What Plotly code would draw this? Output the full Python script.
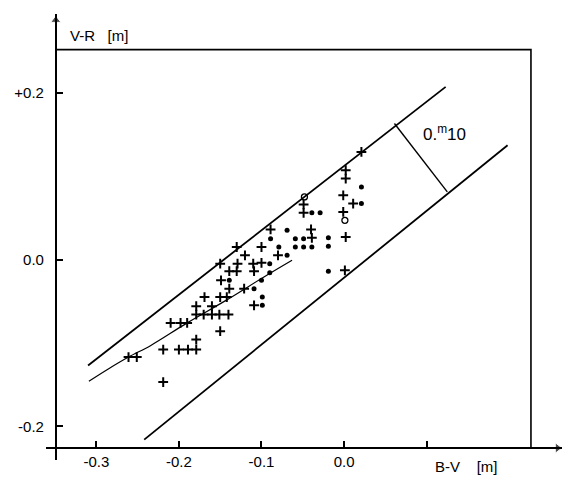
import plotly.graph_objects as go

# ---- data (B-V, V-R in magnitudes) ----
plus_bv = [-0.261, -0.251, -0.219, -0.219, -0.200, -0.189, -0.179, -0.210, -0.198, -0.190,
           -0.179, -0.150, -0.179, -0.170, -0.160, -0.151, -0.140, -0.179, -0.160, -0.169,
           -0.150, -0.142, -0.139, -0.121, -0.149, -0.139, -0.130, -0.109, -0.150, -0.129,
           -0.110, -0.100, -0.120, -0.080, -0.130, -0.100, -0.089, -0.109, -0.049, -0.049,
           -0.040, -0.039, 0.021, 0.002, 0.002, -0.001, 0.011, -0.001, 0.002, 0.001]
plus_vr = [-0.117, -0.117, -0.147, -0.108, -0.108, -0.108, -0.108, -0.076, -0.076, -0.076,
           -0.096, -0.086, -0.066, -0.066, -0.066, -0.066, -0.066, -0.056, -0.056, -0.045,
           -0.045, -0.045, -0.035, -0.035, -0.025, -0.014, -0.014, -0.014, -0.005, -0.005,
           -0.005, -0.004, 0.005, 0.005, 0.015, 0.015, 0.036, -0.055, 0.066, 0.056,
           0.036, 0.026, 0.129, 0.107, 0.097, 0.077, 0.067, 0.057, 0.027, -0.013]

dot_bv = [-0.139, -0.109, -0.100, -0.099, -0.099, -0.090, -0.090, -0.089, -0.079, -0.069,
          -0.069, -0.059, -0.049, -0.059, -0.049, -0.039, -0.039, -0.029, -0.019, -0.019,
          -0.019, 0.021, 0.021]
dot_vr = [-0.025, -0.035, -0.025, -0.045, -0.055, -0.005, -0.016, 0.025, 0.015, 0.005,
          0.035, 0.025, 0.025, 0.015, 0.015, 0.015, 0.056, 0.056, 0.026, 0.016,
          -0.014, 0.087, 0.067]

open_bv = [-0.048, 0.001]
open_vr = [0.075, 0.047]

curve_bv = [-0.309, -0.285, -0.261, -0.234, -0.190, -0.143, -0.097, -0.063]
curve_vr = [-0.146, -0.131, -0.117, -0.103, -0.076, -0.049, -0.021, -0.001]

upper_bv = [-0.310, 0.123]
upper_vr = [-0.127, 0.207]
lower_bv = [-0.242, 0.198]
lower_vr = [-0.216, 0.137]
width_bv = [0.061, 0.125]
width_vr = [0.163, 0.081]

x_ticks = [-0.3, -0.2, -0.1, 0.0, 0.1]
x_tick_labels = ["-0.3", "-0.2", "-0.1", "0.0", ""]
y_ticks = [-0.2, 0.0, 0.2]
y_tick_labels = ["-0.2", "0.0", "+0.2"]

# ---- frame geometry ----
x_axis_pos = -0.3491
y_axis_pos = -0.2260
x_frame = 0.2263
y_frame = 0.2517
x_range = [-0.36093, 0.26511]
y_range = [-0.24041, 0.29436]

FONT = "Liberation Sans"
K = "black"

fig = go.Figure()

fig.add_trace(go.Scatter(x=[x_axis_pos, x_frame, x_frame], y=[y_frame, y_frame, y_axis_pos],
                         mode="lines", line=dict(color=K, width=1.6), hoverinfo="skip"))
fig.add_trace(go.Scatter(x=upper_bv, y=upper_vr, mode="lines", line=dict(color=K, width=1.8)))
fig.add_trace(go.Scatter(x=lower_bv, y=lower_vr, mode="lines", line=dict(color=K, width=1.8)))
fig.add_trace(go.Scatter(x=width_bv, y=width_vr, mode="lines", line=dict(color=K, width=1.4)))
fig.add_trace(go.Scatter(x=curve_bv, y=curve_vr, mode="lines",
                         line=dict(color=K, width=1.2, shape="spline")))

fig.add_trace(go.Scatter(x=plus_bv, y=plus_vr, mode="markers",
                         marker=dict(symbol="cross-thin", size=7, line=dict(color=K, width=2))))
fig.add_trace(go.Scatter(x=dot_bv, y=dot_vr, mode="markers",
                         marker=dict(symbol="circle", size=5, color=K)))
fig.add_trace(go.Scatter(x=open_bv, y=open_vr, mode="markers",
                         marker=dict(symbol="circle-open", size=6, color=K, line=dict(width=1.3))))

# arrow heads at the ends of the axes
fig.add_trace(go.Scatter(x=[0.2585], y=[y_axis_pos], mode="markers", cliponaxis=False,
                         marker=dict(symbol="triangle-right", size=[9], color=K), hoverinfo="skip"))
fig.add_trace(go.Scatter(x=[x_axis_pos], y=[0.2870], mode="markers", cliponaxis=False,
                         marker=dict(symbol="triangle-up", size=[9], color=K), hoverinfo="skip"))

fig.add_annotation(x=-0.3341, y=0.268, xref="x", yref="y", xanchor="left", yanchor="middle",
                   text="V-R&nbsp;&nbsp;&nbsp;[m]", showarrow=False,
                   font=dict(family=FONT, size=15, color=K))
fig.add_annotation(x=0.1080, y=-0.0135, xref="x", yref="paper", xanchor="left", yanchor="middle",
                   text="B-V&nbsp;&nbsp;&nbsp;&nbsp;[m]", showarrow=False,
                   font=dict(family=FONT, size=15, color=K))
fig.add_annotation(x=0.1217, y=0.1517, xref="x", yref="y", xanchor="center", yanchor="middle",
                   text="0.<sup>m</sup>10", showarrow=False,
                   font=dict(family=FONT, size=17, color=K))

fig.update_layout(
    width=562, height=470,
    margin=dict(l=31, r=7, t=6, b=18),
    paper_bgcolor="white", plot_bgcolor="white",
    showlegend=False,
    xaxis=dict(range=x_range, showgrid=False, zeroline=False, showline=True,
               linecolor=K, linewidth=1.6, anchor="free",
               position=(y_axis_pos - y_range[0]) / (y_range[1] - y_range[0]),
               ticks="inside", ticklen=6, tickwidth=1.5, tickcolor=K,
               tickvals=x_ticks, ticktext=x_tick_labels,
               tickfont=dict(family=FONT, size=15, color=K)),
    yaxis=dict(range=y_range, showgrid=False, zeroline=False, showline=True,
               linecolor=K, linewidth=1.6, anchor="free",
               position=(x_axis_pos - x_range[0]) / (x_range[1] - x_range[0]),
               ticks="inside", ticklen=6, tickwidth=1.5, tickcolor=K,
               tickvals=y_ticks, ticktext=y_tick_labels, ticklabelstandoff=8,
               tickfont=dict(family=FONT, size=15, color=K)),
)

fig.write_html("out.html")
